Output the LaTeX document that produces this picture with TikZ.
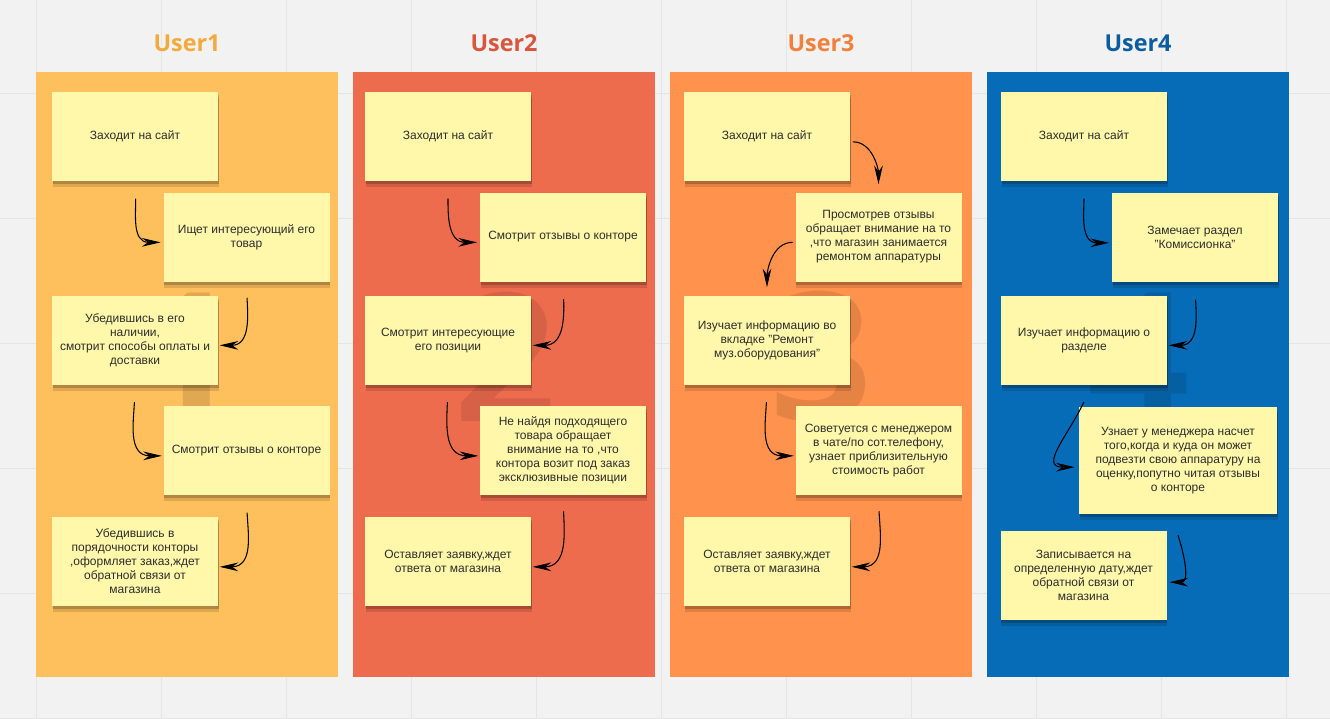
\documentclass[tikz,border=0pt]{standalone}
\usepackage{fontspec}
\setmainfont{Liberation Sans}
\newfontfamily\titlefont{Open Sans}
\usetikzlibrary{arrows.meta,shadows}

\definecolor{paper}{RGB}{242,242,242}
\definecolor{gridline}{RGB}{229,229,229}
\definecolor{laneA}{RGB}{254,192,92}
\definecolor{laneB}{RGB}{238,108,78}
\definecolor{laneC}{RGB}{255,146,77}
\definecolor{laneD}{RGB}{6,108,183}
\definecolor{headA}{RGB}{242,170,60}
\definecolor{headB}{RGB}{216,86,60}
\definecolor{headC}{RGB}{240,128,58}
\definecolor{headD}{RGB}{12,92,160}
\definecolor{sticky}{RGB}{255,248,170}
\definecolor{ink}{RGB}{45,45,45}

\tikzset{
  head/.style={font=\titlefont\bfseries\fontsize{17.5}{20}\selectfont, inner sep=0},
  bignum/.style={font=\titlefont\bfseries\fontsize{134}{134}\selectfont, inner sep=0},
  note/.style={fill=sticky, text=ink, font=\fontsize{9}{10.5}\selectfont, align=center,
    inner sep=0, minimum width=124.5pt, minimum height=66.75pt,
    drop shadow={shadow xshift=0.5pt, shadow yshift=-4.5pt, opacity=0.12, fill=black},
    drop shadow={shadow xshift=0.5pt, shadow yshift=-2.5pt, opacity=0.2, fill=black}},
  arr/.style={line width=0.8pt, -{Stealth[length=14pt,width=6.5pt,inset=4.5pt]}}
}

\begin{document}
\begin{tikzpicture}[x=0.75pt,y=0.75pt]
\useasboundingbox (0,0) rectangle (1330,-718);
\fill[paper] (0,0) rectangle (1330,-718);
% grid
\foreach \x in {36,161,...,1286} \draw[gridline,line width=0.75pt] (\x,0) -- (\x,-718);
\foreach \y in {93,218,...,718} \draw[gridline,line width=0.75pt] (0,-\y) -- (1330,-\y);

% lanes
\fill[laneA] (36,-72) rectangle (338,-677);
\fill[laneB] (353,-72) rectangle (655,-677);
\fill[laneC] (670,-72) rectangle (972,-677);
\fill[laneD] (987,-72) rectangle (1289,-677);

\node[head,text=headA] (T1) at (187,-43) {User1};
\node[head,text=headB] (T2) at (504,-43) {User2};
\node[head,text=headC] (T3) at (821,-43) {User3};
\node[head,text=headD] (T4) at (1138,-43) {User4};

\node[bignum,text=laneA!88!black] (N1) at (187,-357) {1};
\node[bignum,text=laneB!90!black] (N2) at (505,-357) {2};
\node[bignum,text=laneC!90!black] (N3) at (821,-357) {3};
\node[bignum,text=laneD!88!black] (N4) at (1138,-357) {4};

% User1
\node[note] (A1) at (135,-136.5) {Заходит на сайт};
\node[note] (A2) at (246.5,-237) {Ищет интересующий его\\товар};
\node[note] (A3) at (135,-340) {Убедившись в его\\наличии,\\смотрит способы оплаты и\\доставки};
\node[note] (A4) at (246.5,-450.5) {Смотрит отзывы о конторе};
\node[note] (A5) at (135,-561.5) {Убедившись в\\порядочности конторы\\,оформляет заказ,ждет\\обратной связи от\\магазина};

% User2
\node[note] (B1) at (448,-136.5) {Заходит на сайт};
\node[note] (B2) at (563,-237) {Смотрит отзывы о конторе};
\node[note] (B3) at (448,-340) {Смотрит интересующие\\его позиции};
\node[note] (B4) at (563,-450.5) {Не найдя подходящего\\товара обращает\\внимание на то ,что\\контора возит под заказ\\эксклюзивные позиции};
\node[note] (B5) at (448,-561.5) {Оставляет заявку,ждет\\ответа от магазина};

% User3
\node[note] (C1) at (767,-136.5) {Заходит на сайт};
\node[note] (C2) at (878.5,-237) {Просмотрев отзывы\\обращает внимание на то\\,что магазин занимается\\ремонтом аппаратуры};
\node[note] (C3) at (767,-340) {Изучает информацию во\\вкладке "Ремонт\\муз.оборудования"};
\node[note] (C4) at (878.5,-450.5) {Советуется с менеджером\\в чате/по сот.телефону,\\узнает приблизительную\\стоимость работ};
\node[note] (C5) at (767,-561.5) {Оставляет заявку,ждет\\ответа от магазина};

% User4
\node[note] (D1) at (1084,-136.5) {Заходит на сайт};
\node[note] (D2) at (1195,-237.5) {Замечает раздел\\"Комиссионка"};
\node[note] (D3) at (1084,-340) {Изучает информацию о\\разделе};
\node[note,minimum width=148.5pt,minimum height=80.25pt] (D4) at (1178,-460.5) {Узнает у менеджера насчет\\того,когда и куда он может\\подвезти свою аппаратуру на\\оценку,попутно читая отзывы\\о конторе};
\node[note] (D5) at (1083.5,-575.5) {Записывается на\\определенную дату,ждет\\обратной связи от\\магазина};

\path[arr]
(A1.south) edge[out=-88,in=180,looseness=1.2,shorten <=13pt,shorten >=2pt] ([yshift=-4pt]A2.west)
(A2.south) edge[out=-88,in=0,looseness=1.2,shorten <=12pt,shorten >=1pt] ([yshift=-4pt]A3.east)
(A3.south) edge[out=-92,in=180,looseness=1.2,shorten <=13pt,shorten >=1pt] ([yshift=-4pt]A4.west)
(A4.south) edge[out=-88,in=0,looseness=1.2,shorten <=13pt,shorten >=1pt] ([yshift=-4pt]A5.east)
(B1.south) edge[out=-90,in=180,looseness=1.2,shorten <=13pt,shorten >=2pt] ([yshift=-4pt]B2.west)
(B2.south) edge[out=-88,in=0,looseness=1.2,shorten <=13pt,shorten >=1pt] ([yshift=-4pt]B3.east)
(B3.south) edge[out=-92,in=180,looseness=1.2,shorten <=13pt,shorten >=1pt] ([yshift=-4pt]B4.west)
(B4.south) edge[out=-88,in=0,looseness=1.2,shorten <=12pt,shorten >=1pt] ([yshift=-4pt]B5.east)
([yshift=-4pt]C1.east) edge[out=0,in=90,shorten <=2pt,shorten >=6pt] (C2.north)
([yshift=-4pt]C2.west) edge[out=180,in=90,shorten <=2pt,shorten >=6pt] (C3.north)
(C3.south) edge[out=-92,in=180,looseness=1.2,shorten <=13pt,shorten >=1pt] ([yshift=-4pt]C4.west)
(C4.south) edge[out=-88,in=0,looseness=1.2,shorten <=12pt,shorten >=1pt] ([yshift=-4pt]C5.east)
(D1.south) edge[out=-90,in=180,looseness=1.2,shorten <=13pt,shorten >=2pt] ([yshift=-4pt]D2.west)
(D2.south) edge[out=-88,in=0,looseness=1.2,shorten <=13pt,shorten >=1pt] ([yshift=-4pt]D3.east);
\draw[arr] (D3.south) ++(0,-17) to[out=-115,in=180,looseness=1.4] ([xshift=-3pt,yshift=-5pt]D4.west);
\draw[arr] (D4.south) ++(0,-21) to[out=-72,in=0,looseness=1.1] ([xshift=2pt,yshift=-5pt]D5.east);
\end{tikzpicture}
\end{document}
